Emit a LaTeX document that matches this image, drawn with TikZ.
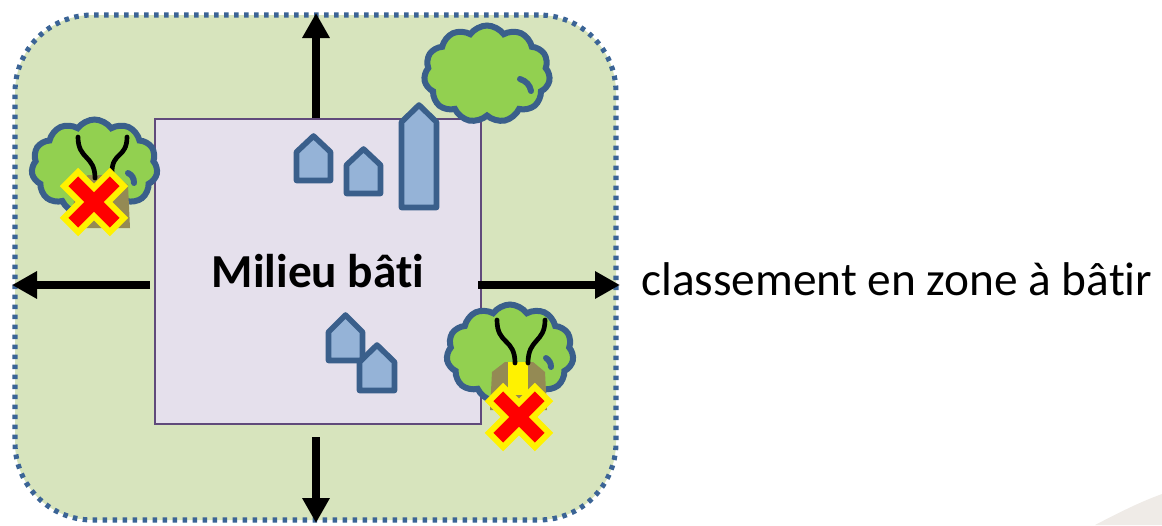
\documentclass[tikz,border=0pt]{standalone}
\usepackage{fontspec}
\setmainfont{Carlito}[Ligatures={NoCommon}]
\usetikzlibrary{arrows.meta,shapes.symbols}
\definecolor{zonegreen}{HTML}{D7E4BD}
\definecolor{zoneblue}{HTML}{3B6496}
\definecolor{batifill}{HTML}{E5E0EC}
\definecolor{batiline}{HTML}{604A7B}
\definecolor{treegreen}{HTML}{92D050}
\definecolor{treeline}{HTML}{3A5F8B}
\definecolor{housefill}{HTML}{95B3D7}
\definecolor{trunkcol}{HTML}{948A54}
\definecolor{swooshcol}{HTML}{EFEBE7}
\begin{document}
\begin{tikzpicture}[x=0.75pt,y=-0.75pt,
  zonebox/.style={draw=zoneblue, fill=zonegreen, line width=3.8pt, dash pattern=on 3.4pt off 4.1pt,
    rounded corners=58pt, minimum width=450.75pt, minimum height=378.75pt, inner sep=0},
  batibox/.style={draw=batiline, fill=batifill, line width=1.5pt, minimum width=244.5pt,
    minimum height=228.75pt, inner sep=0},
  treecloud/.style={cloud, cloud puffs=11, cloud puff arc=110, draw=treeline, fill=treegreen,
    line width=4.5pt, inner sep=0},
  hook/.style={draw=treeline, line width=4.5pt, line cap=round},
  branch/.style={draw=black, line width=3.5pt, line cap=round},
  house/.style={draw=treeline, fill=housefill, line width=4.2pt, line join=round},
  bigarrow/.style={draw=black, line width=6.4pt, -{Triangle[length=18.75pt, width=19.5pt]}},
  labeltext/.style={inner sep=0, font=\fontsize{35.5}{42}\selectfont},
  redx/.pic={\draw[yellow, fill=red, line width=4.5pt, line join=miter]
    (30,15.8) -- (15.8,30) -- (0,14.1) -- (-15.8,30) -- (-30,15.8) -- (-14.1,0)
    -- (-30,-15.8) -- (-15.8,-30) -- (0,-14.1) -- (15.8,-30) -- (30,-15.8) -- (14.1,0) -- cycle;}
]
\useasboundingbox (0,0) rectangle (1162,525);
\fill[swooshcol] (1095,525) .. controls (1120,512) and (1140,502) .. (1162,494) -- (1162,525) -- cycle;

% zones
\node[zonebox] (zone) at (315.5,267.5) {};
\node[batibox] (bati) at (318,271.5) {};

% houses
\draw[house] (296.5,180.5) -- (330.5,180.5) -- (330.5,152) -- (313.5,136) -- (296.5,152) -- cycle;
\draw[house] (346.5,193.5) -- (380.5,193.5) -- (380.5,165) -- (363.5,149) -- (346.5,165) -- cycle;
\draw[house] (401.5,207.5) -- (436.5,207.5) -- (436.5,122) -- (419,105) -- (401.5,122) -- cycle;
\draw[house] (328.5,360.5) -- (362.5,360.5) -- (362.5,332) -- (345.5,315) -- (328.5,332) -- cycle;
\draw[house] (359.5,390.5) -- (394.5,390.5) -- (394.5,362) -- (377,345) -- (359.5,362) -- cycle;

% top tree
\node[treecloud, minimum width=94.5pt, minimum height=72.75pt] (treeTop) at (487,74) {};
\draw[hook] (520,79) .. controls (526,81) and (530,85) .. (531,91);

% left tree
\node[treecloud, minimum width=94.5pt, minimum height=71.25pt] (treeLeft) at (94.5,167) {};
\draw[hook] (128,173) .. controls (132,175) and (134,178) .. (134,183);
\fill[trunkcol] (88,175) -- (115,175) -- (128,185) -- (130,228) -- (72,228) -- (75,185) -- cycle;
\draw[branch] (78,137) .. controls (78,160) and (95,155) .. (95,178);
\draw[branch] (127,137) .. controls (127,158) and (112,152) .. (112,172);
\pic at (94,202) {redx};

% right tree
\node[treecloud, minimum width=95.25pt, minimum height=73.5pt] (treeRight) at (510,353.5) {};
\draw[hook] (546,358) .. controls (549,360) and (551,363) .. (551,367);
\fill[trunkcol] (505,362) -- (533,362) -- (545,372) -- (547,410) -- (490,410) -- (492,372) -- cycle;
\fill[yellow] (508,362) rectangle (528,395);
\draw[branch] (497,320) .. controls (497,345) and (515,338) .. (515,363);
\draw[branch] (545,320) .. controls (545,343) and (528,338) .. (528,363);
\pic at (519,417) {redx};

% arrows
\coordinate (topEnd) at (316,13);
\coordinate (botStart) at (316,437);
\coordinate (botEnd) at (316,523);
\coordinate (leftStart) at (150,285);
\coordinate (leftEnd) at (12,285);
\coordinate (rightStart) at (478,285);
\coordinate (rightEnd) at (620,285);
\draw[bigarrow] (bati.north -| topEnd) -- (topEnd);
\draw[bigarrow] (botStart) -- (botEnd);
\draw[bigarrow] (leftStart) -- (leftEnd);
\draw[bigarrow] (rightStart) -- (rightEnd);

% labels
\node[labeltext, font=\bfseries\fontsize{35.5}{42}\selectfont, anchor=base] (title) at (318,287) {Milieu bâti};
\node[labeltext, anchor=base west] (side) at (641,295) {classement en zone à bâtir};
\end{tikzpicture}
\end{document}
